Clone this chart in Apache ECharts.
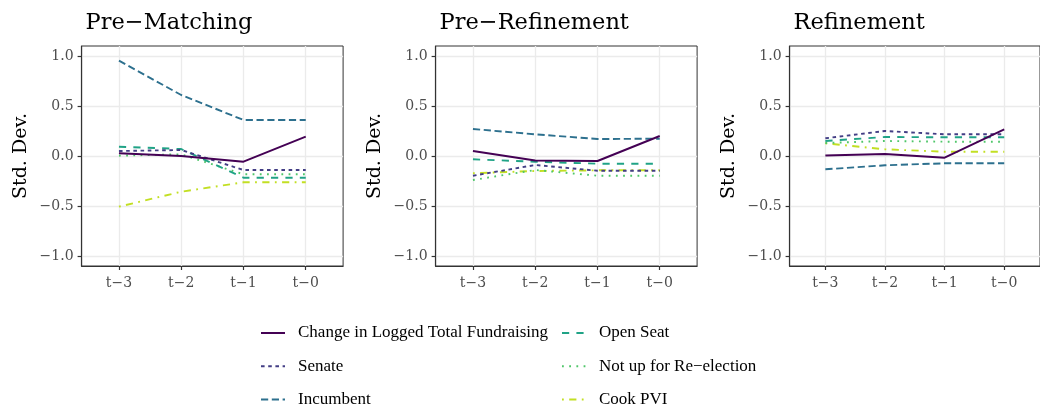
<!DOCTYPE html>
<html>
<head>
<meta charset="utf-8">
<script src="https://cdn.jsdelivr.net/npm/echarts@6/dist/echarts.min.js"></script>
<style>
html,body{margin:0;padding:0;background:#fff;}
#chart{width:1040px;height:408px;}
</style>
</head>
<body>
<div id="chart"></div>
<script>
// ---- data ----
const categories = ['t−3', 't−2', 't−1', 't−0'];
const panelTitles = ['Pre−Matching', 'Pre−Refinement', 'Refinement'];
const seriesNames = ['Change in Logged Total Fundraising', 'Senate', 'Incumbent', 'Open Seat', 'Not up for Re−election', 'Cook PVI'];
const yTickValues = [-1, -0.5, 0, 0.5, 1];
const yTickLabels = ['−1.0', '−0.5', '0.0', '0.5', '1.0'];
const yMinorValues = [-0.75, -0.25, 0.25, 0.75];

// Pre-Matching
const pmFundraising = [0.027, 0.0, -0.057, 0.193];
const pmSenate      = [0.05, 0.06, -0.14, -0.14];
const pmIncumbent   = [0.953, 0.61, 0.36, 0.36];
const pmOpenSeat    = [0.093, 0.07, -0.217, -0.217];
const pmNotUp       = [0.003, 0.017, -0.183, -0.183];
const pmCook        = [-0.507, -0.357, -0.263, -0.263];

// Pre-Refinement
const prFundraising = [0.05, -0.045, -0.05, 0.2];
const prSenate      = [-0.197, -0.09, -0.147, -0.147];
const prIncumbent   = [0.27, 0.217, 0.17, 0.173];
const prOpenSeat    = [-0.033, -0.057, -0.077, -0.077];
const prNotUp       = [-0.24, -0.14, -0.197, -0.197];
const prCook        = [-0.173, -0.15, -0.143, -0.143];

// Refinement
const rfFundraising = [0.005, 0.02, -0.017, 0.267];
const rfSenate      = [0.177, 0.25, 0.217, 0.217];
const rfIncumbent   = [-0.133, -0.093, -0.073, -0.073];
const rfOpenSeat    = [0.15, 0.19, 0.187, 0.187];
const rfNotUp       = [0.13, 0.15, 0.143, 0.143];
const rfCook        = [0.127, 0.067, 0.043, 0.043];

// ---- styles ----
const colors = ['#440154', '#433E85', '#2D708E', '#20A386', '#4FC669', '#C2DF23'];
const u = 1.8;
const dashes = ['solid', [2*u, 2*u], [4*u, 2*u], [4*u, 4*u], [1*u, 3*u], [1*u, 3*u, 4*u, 3*u]];

const panels = [
  [pmFundraising, pmSenate, pmIncumbent, pmOpenSeat, pmNotUp, pmCook],
  [prFundraising, prSenate, prIncumbent, prOpenSeat, prNotUp, prCook],
  [rfFundraising, rfSenate, rfIncumbent, rfOpenSeat, rfNotUp, rfCook]
];

const gridLefts = [81.6, 435.6, 789.6];
const gridW = 261.5;
const gridTop = 46;
const gridH = 220;

const SERIF = 'DejaVu Serif';
const grids = [], xAxes = [], yAxes = [], titles = [], series = [];
const xPos = categories.map((c, i) => i + 1);

panels.forEach((panel, p) => {
  grids.push({left: gridLefts[p], width: gridW, top: gridTop, height: gridH,
    show: true, borderColor: '#333', borderWidth: 1, backgroundColor: '#fff'});
  titles.push({text: panelTitles[p], left: gridLefts[p] - 1, top: 7,
    textStyle: {fontFamily: SERIF, fontSize: 22.5, fontWeight: 'normal', color: '#000'}});
  xAxes.push({type: 'value', gridIndex: p, min: 0.4, max: 4.6,
    axisLine: {show: true, onZero: false, lineStyle: {color: '#333', width: 1.2}},
    axisTick: {show: true, length: 4, customValues: xPos, lineStyle: {color: '#333', width: 1.2}},
    axisLabel: {show: true, customValues: xPos, margin: 10, color: '#4d4d4d',
      fontFamily: SERIF, fontSize: 14, formatter: v => categories[Math.round(v) - 1]},
    splitLine: {show: true, lineStyle: {color: '#ebebeb', width: 1.3}}
  });
  yAxes.push({type: 'value', gridIndex: p, min: -1.1, max: 1.1,
    name: 'Std. Dev.', nameLocation: 'middle', nameGap: 51, nameRotate: 90,
    nameTextStyle: {fontFamily: SERIF, fontSize: 19, color: '#000'},
    axisLine: {show: true, lineStyle: {color: '#333', width: 1.2}},
    axisTick: {show: true, length: 4, customValues: yTickValues, lineStyle: {color: '#333', width: 1.2}},
    axisLabel: {show: true, customValues: yTickValues, margin: 8, color: '#4d4d4d',
      fontFamily: SERIF, fontSize: 14,
      formatter: v => yTickLabels[yTickValues.findIndex(t => Math.abs(t - v) < 1e-6)]},
    splitLine: {show: true, lineStyle: {color: '#ebebeb', width: 1.3}}
  });
  panel.forEach((vals, s) => {
    series.push({
      name: seriesNames[s], type: 'line', xAxisIndex: p, yAxisIndex: p * 2,
      data: vals.map((v, i) => [xPos[i], v]),
      symbol: 'none', smooth: false, silent: true, animation: false,
      lineStyle: {color: colors[s], width: 1.9, type: dashes[s], cap: 'butt'},
      itemStyle: {color: colors[s]},
      z: 10 - s
    });
  });
});

// minor grid y-axes (one per grid)
const allY = [];
yAxes.forEach((ya, p) => {
  allY.push(ya);
  allY.push({type: 'value', gridIndex: p, min: -1.1, max: 1.1, position: 'left',
    axisLine: {show: false}, axisLabel: {show: false, customValues: yMinorValues},
    axisTick: {show: false, customValues: yMinorValues},
    splitLine: {show: true, lineStyle: {color: '#eeeeee', width: 0.8}}, z: -1});
});

const legendText = {fontFamily: 'Liberation Serif', fontSize: 17, color: '#000', lineHeight: 17, padding: [0, 0, 0, 8]};
const legendBase = {orient: 'vertical', top: 324.5, padding: 0, height: 90,
  itemWidth: 24, itemHeight: 14, itemGap: 16.3, textStyle: legendText, selectedMode: false,
  itemStyle: {opacity: 0}};
const option = {
  backgroundColor: '#fff',
  animation: false,
  title: titles,
  grid: grids,
  xAxis: xAxes,
  yAxis: allY,
  legend: [
    Object.assign({}, legendBase, {data: seriesNames.slice(0, 3), left: 260}),
    Object.assign({}, legendBase, {data: seriesNames.slice(3), left: 561})
  ],
  series: series
};

const chart = echarts.init(document.getElementById('chart'), null, {renderer: 'canvas', width: 1040, height: 408});
chart.setOption(option);
</script>
</body>
</html>
